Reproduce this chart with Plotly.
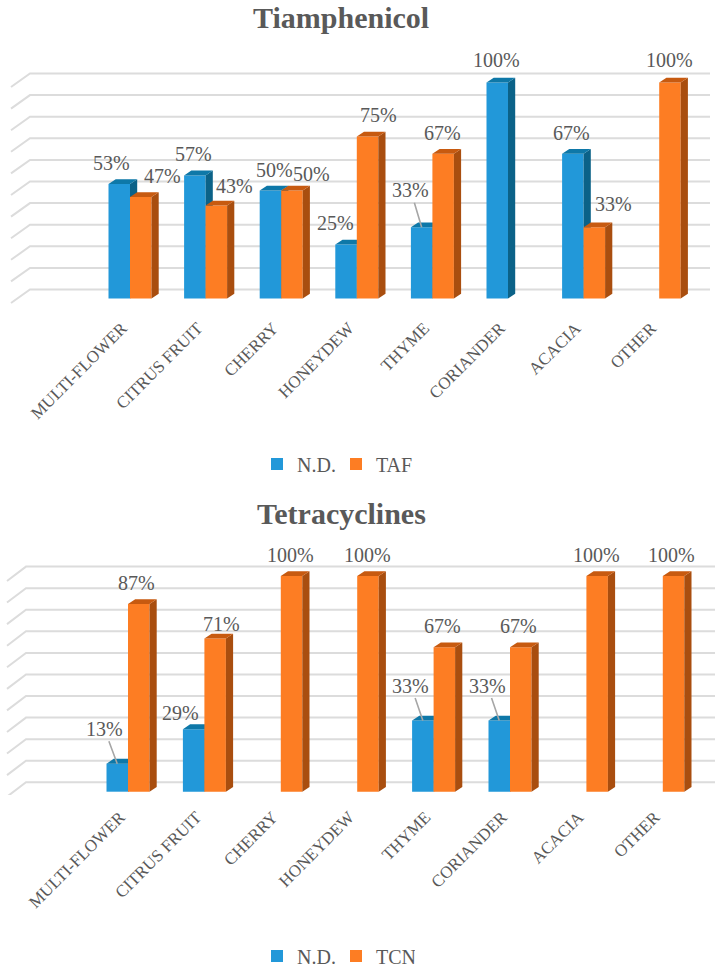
import plotly.graph_objects as go

# ---- data -------------------------------------------------------------
categories = ["MULTI-FLOWER", "CITRUS FRUIT", "CHERRY", "HONEYDEW",
              "THYME", "CORIANDER", "ACACIA", "OTHER"]
tia_nd = [53, 57, 50, 25, 33, 100, 67, 0]
tia_taf = [47, 43, 50, 75, 67, 0, 33, 100]
tet_nd = [13, 29, 0, 0, 33, 33, 0, 0]
tet_tcn = [87, 71, 100, 100, 67, 67, 100, 100]
grid_values = [0, 10, 20, 30, 40, 50, 60, 70, 80, 90, 100]

# ---- style / layout ---------------------------------------------------
W, H = 724, 971
FONT = "Liberation Serif"
GREY = "#595959"
BLUE, BLUE_SIDE, BLUE_TOP = "#2298d9", "#0b6288", "#0e78a8"
ORANGE, ORANGE_SIDE, ORANGE_TOP = "#fd7d23", "#a94e0f", "#c75a10"
GRID = "#dcdcdc"

# label offsets from the top-centre of each bar, in pixels (dx, dy up)
tia_nd_off = [(-8, 21), (-1, 21), (4, 20), (-11, 21), (-11, 37), (-1, 22), (-1, 21), None]
tia_taf_off = [(22, 21), (18, 20), (20, 16), (11, 21), (-1, 21), None, (19, 23), (0, 22)]
tet_nd_off = [(-13, 35), (-13, 16), None, None, (-12, 35), (-12, 35), None, None]
tet_tcn_off = [(-2, 21), (6, 15), (-1, 21), (0, 21), (-2, 21), (-2, 21), (-1, 21), (-2, 21)]
leader_tia_nd = [4]
leader_tet_nd = [0, 4, 5]

panels = [
    dict(title="Tiamphenicol", title_y=18, name2="TAF", nd=tia_nd, other=tia_taf,
         nd_off=tia_nd_off, other_off=tia_taf_off, leaders=leader_tia_nd,
         base=298.5, ppu=2.16, cx=130.0, step=75.6,
         top=30, bottom=306, grid_l0=11, grid_l1=30, grid_r=710, gb=289.5, gf=303,
         legend_y=464),
    dict(title="Tetracyclines", title_y=513, name2="TCN", nd=tet_nd, other=tet_tcn,
         nd_off=tet_nd_off, other_off=tet_tcn_off, leaders=leader_tet_nd,
         base=791.7, ppu=2.157, cx=128.0, step=76.4,
         top=530, bottom=795, grid_l0=7, grid_l1=26, grid_r=715, gb=782.3, gf=796.7,
         legend_y=956),
]

BAR_PX, DEPTH_X, DEPTH_Y = 21.5, 7.2, 4.8
TICK_SHIFT_PX = 8

fig = go.Figure()
layout = dict(width=W, height=H, margin=dict(l=0, r=0, t=0, b=0, autoexpand=False),
              paper_bgcolor="white", plot_bgcolor="white",
              font=dict(family=FONT, color=GREY, size=20), barmode="overlay",
              showlegend=True)
annotations = []
axis_no = 1


def name_of(prefix, n):
    return prefix if n == 1 else f"{prefix}{n}"


for pi, p in enumerate(panels):
    xr = [(0 - p["cx"]) / p["step"], (W - p["cx"]) / p["step"]]
    yr = [(p["base"] - p["bottom"]) / p["ppu"], (p["base"] - p["top"]) / p["ppu"]]
    dom = [1 - p["bottom"] / H, 1 - p["top"] / H]
    w = BAR_PX / p["step"]
    dx, dy = DEPTH_X / p["step"], DEPTH_Y / p["ppu"]
    base_no = axis_no
    legend_id = "legend" if pi == 0 else "legend2"

    # three stacked layers: grid, first series, second series
    ax = [base_no, base_no + 1, base_no + 2]
    axis_no += 3
    for k, n in enumerate(ax):
        xa = dict(domain=[0, 1], range=xr, showgrid=False, zeroline=False,
                  anchor=name_of("y", n))
        ya = dict(domain=dom, range=yr, visible=False, showgrid=False, zeroline=False,
                  anchor=name_of("x", n))
        if k == 0:
            xa.update(tickmode="array",
                      tickvals=[i - TICK_SHIFT_PX / p["step"] for i in range(len(categories))],
                      ticktext=categories, tickangle=-45, ticks="", showline=False,
                      tickfont=dict(family=FONT, size=17, color=GREY), ticklabelstandoff=8)
        else:
            xa.update(visible=False, overlaying=name_of("x", base_no))
            ya.update(overlaying=name_of("y", base_no))
        layout[name_of("xaxis", n)] = xa
        layout[name_of("yaxis", n)] = ya

    # receding gridlines, derived from the grid values
    back = (p["base"] - p["gb"]) / p["ppu"]
    front = (p["base"] - p["gf"]) / p["ppu"]
    x0 = (p["grid_l0"] - p["cx"]) / p["step"]
    x1 = (p["grid_l1"] - p["cx"]) / p["step"]
    x2 = (p["grid_r"] - p["cx"]) / p["step"]
    gx, gy = [], []
    for v in grid_values:
        gx += [x0, x1, x2, None]
        gy += [v + front, v + back, v + back, None]
    fig.add_trace(go.Scatter(x=gx, y=gy, mode="lines", showlegend=False, hoverinfo="skip",
                             line=dict(color=GRID, width=2),
                             xaxis=name_of("x", ax[0]), yaxis=name_of("y", ax[0])))

    series = [("N.D.", p["nd"], p["nd_off"], BLUE, BLUE_SIDE, BLUE_TOP, -w, ax[1]),
              (p["name2"], p["other"], p["other_off"], ORANGE, ORANGE_SIDE, ORANGE_TOP, 0.0, ax[2])]
    for si, (nm, vals, offs, col, side, top, off, n) in enumerate(series):
        xn, yn = name_of("x", n), name_of("y", n)
        idx = [i for i, v in enumerate(vals) if v > 0]
        fig.add_trace(go.Bar(x=idx, y=[vals[i] for i in idx], width=w, offset=off, name=nm,
                             marker=dict(color=col, line=dict(width=0)), xaxis=xn, yaxis=yn,
                             legend=legend_id))
        sx, sy, tx, ty = [], [], [], []
        for i in idx:
            v = vals[i]
            l, r = i + off, i + off + w
            sx += [r, r + dx, r + dx, r, r, None]
            sy += [0, dy, v + dy, v, 0, None]
            tx += [l, l + dx, r + dx, r, l, None]
            ty += [v, v + dy, v + dy, v, v, None]
        for ox, oy, c in ((sx, sy, side), (tx, ty, top)):
            fig.add_trace(go.Scatter(x=ox, y=oy, mode="lines", fill="toself", fillcolor=c,
                                     line=dict(width=0, color=c), showlegend=False,
                                     hoverinfo="skip", xaxis=xn, yaxis=yn))
        # data labels
        for i in idx:
            cx_val = i + off + w / 2
            ox_px, oy_px = offs[i]
            base_ann = dict(xref=xn, yref=yn, x=cx_val, y=vals[i], text=f"{vals[i]}%",
                            font=dict(family=FONT, size=20, color=GREY),
                            xanchor="center", yanchor="middle")
            if si == 0 and i in p["leaders"]:
                base_ann.update(showarrow=True, arrowhead=0, arrowwidth=1.6, arrowcolor="#a6a6a6",
                                ax=ox_px, ay=-oy_px, standoff=0, startstandoff=0)
            else:
                base_ann.update(showarrow=False, xshift=ox_px, yshift=oy_px)
            annotations.append(base_ann)

    annotations.append(dict(xref="paper", yref="paper", x=341 / W, y=1 - p["title_y"] / H,
                            text=f"<b>{p['title']}</b>", showarrow=False, xanchor="center",
                            yanchor="middle", font=dict(family=FONT, size=30, color=GREY)))

    layout[legend_id] = dict(orientation="h", xref="paper", yref="paper",
                             x=257 / W, y=1 - p["legend_y"] / H, xanchor="left", yanchor="middle",
                             entrywidth=34, entrywidthmode="pixels", itemclick=False,
                             font=dict(family=FONT, size=20, color=GREY),
                             bgcolor="rgba(0,0,0,0)", traceorder="normal")

layout["annotations"] = annotations
fig.update_layout(**layout)
fig.write_html("out.html", config={"displayModeBar": False},
               post_script="document.body.style.margin='0';document.body.style.overflow='hidden';")
